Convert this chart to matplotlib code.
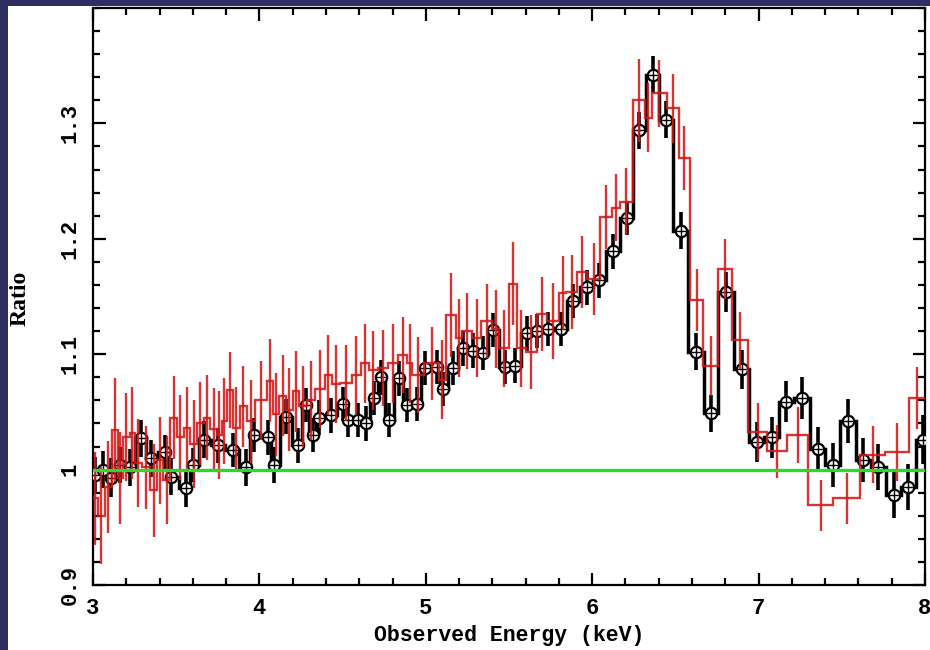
import numpy as np
import matplotlib
matplotlib.use("Agg")
import matplotlib.pyplot as plt
from matplotlib.patches import Rectangle
from matplotlib.ticker import MultipleLocator, FixedLocator

# ---------------- data ----------------
black_E = [3.01, 3.06, 3.11, 3.16, 3.22, 3.29, 3.35, 3.43, 3.47, 3.56,
           3.60, 3.67, 3.75, 3.84, 3.92, 3.97, 4.05, 4.09, 4.16, 4.23,
           4.28, 4.32, 4.36, 4.43, 4.50, 4.53, 4.59, 4.64, 4.69, 4.73,
           4.78, 4.84, 4.89, 4.945, 4.995, 5.065, 5.105, 5.165, 5.225, 5.285,
           5.345, 5.405, 5.476, 5.536, 5.606, 5.67, 5.736, 5.81, 5.886, 5.97,
           6.04, 6.123, 6.207, 6.283, 6.364, 6.443, 6.532, 6.624, 6.714, 6.804,
           6.898, 6.988, 7.078, 7.166, 7.263, 7.355, 7.445, 7.539, 7.629, 7.716,
           7.813, 7.90, 7.99]
black_R = [0.995, 1.000, 0.993, 1.004, 1.002, 1.027, 1.010, 1.015, 0.994, 0.984,
           1.004, 1.026, 1.021, 1.017, 1.002, 1.030, 1.028, 1.004, 1.046, 1.021,
           1.056, 1.030, 1.045, 1.047, 1.057, 1.043, 1.043, 1.040, 1.062, 1.080,
           1.043, 1.079, 1.056, 1.057, 1.088, 1.089, 1.070, 1.088, 1.105, 1.103,
           1.101, 1.121, 1.089, 1.090, 1.118, 1.120, 1.122, 1.122, 1.146, 1.158,
           1.164, 1.189, 1.218, 1.294, 1.342, 1.303, 1.207, 1.102, 1.049, 1.154,
           1.087, 1.024, 1.028, 1.059, 1.062, 1.018, 1.004, 1.042, 1.008, 1.002,
           0.978, 0.985, 1.026]
black_err = [0.016, 0.016, 0.017, 0.016, 0.016, 0.016, 0.016, 0.015, 0.016, 0.016,
             0.015, 0.016, 0.015, 0.015, 0.016, 0.015, 0.015, 0.016, 0.015, 0.015,
             0.015, 0.015, 0.015, 0.015, 0.015, 0.015, 0.015, 0.015, 0.015, 0.015,
             0.015, 0.015, 0.015, 0.015, 0.015, 0.015, 0.015, 0.015, 0.015, 0.015,
             0.015, 0.015, 0.015, 0.015, 0.015, 0.015, 0.015, 0.015, 0.015, 0.015,
             0.015, 0.015, 0.015, 0.016, 0.016, 0.016, 0.016, 0.016, 0.016, 0.017,
             0.017, 0.017, 0.018, 0.018, 0.018, 0.019, 0.019, 0.019, 0.019, 0.020,
             0.020, 0.020, 0.021]

red_edges = [3.000, 3.030, 3.072, 3.114, 3.150, 3.180, 3.222, 3.252, 3.294, 3.343,
             3.385, 3.421, 3.463, 3.505, 3.545, 3.585, 3.625, 3.665, 3.705, 3.745,
             3.775, 3.805, 3.841, 3.883, 3.925, 3.974, 4.046, 4.082, 4.120, 4.160,
             4.200, 4.240, 4.286, 4.334, 4.394, 4.436, 4.484, 4.556, 4.610, 4.660,
             4.710, 4.770, 4.830, 4.890, 4.920, 4.990, 5.080, 5.120, 5.180, 5.220,
             5.280, 5.330, 5.400, 5.440, 5.500, 5.550, 5.600, 5.670, 5.730, 5.800,
             5.845, 5.910, 5.970, 6.047, 6.119, 6.167, 6.245, 6.317, 6.357, 6.451,
             6.519, 6.590, 6.668, 6.758, 6.842, 6.938, 7.052, 7.172, 7.297, 7.448,
             7.611, 7.761, 7.905, 8.000]
red_R = [0.975, 0.960, 0.985, 1.034, 0.993, 1.028, 1.032, 1.006, 1.002, 0.982,
         1.008, 0.991, 1.045, 1.028, 1.036, 1.022, 1.040, 1.045, 1.035, 1.030,
         1.042, 1.069, 1.036, 1.055, 1.042, 1.060, 1.077, 1.048, 1.064, 1.052,
         1.068, 1.055, 1.060, 1.070, 1.082, 1.074, 1.075, 1.082, 1.092, 1.086,
         1.088, 1.092, 1.099, 1.092, 1.082, 1.092, 1.078, 1.134, 1.114, 1.120,
         1.114, 1.129, 1.122, 1.105, 1.161, 1.105, 1.102, 1.135, 1.129, 1.153,
         1.154, 1.171, 1.165, 1.219, 1.227, 1.232, 1.320, 1.305, 1.326, 1.313,
         1.270, 1.147, 1.090, 1.174, 1.112, 1.033, 1.016, 1.030, 0.969, 0.975,
         1.013, 1.015, 1.062]
red_err = [0.040, 0.042, 0.040, 0.045, 0.040, 0.038, 0.040, 0.038, 0.036, 0.040,
           0.038, 0.038, 0.036, 0.037, 0.036, 0.038, 0.036, 0.037, 0.036, 0.038,
           0.037, 0.033, 0.036, 0.035, 0.036, 0.034, 0.036, 0.036, 0.035, 0.036,
           0.035, 0.035, 0.034, 0.034, 0.035, 0.034, 0.033, 0.034, 0.034, 0.034,
           0.033, 0.034, 0.033, 0.034, 0.033, 0.032, 0.034, 0.036, 0.034, 0.033,
           0.034, 0.032, 0.034, 0.033, 0.036, 0.033, 0.032, 0.032, 0.033, 0.032,
           0.032, 0.031, 0.031, 0.028, 0.029, 0.029, 0.036, 0.030, 0.029, 0.030,
           0.028, 0.027, 0.026, 0.026, 0.025, 0.025, 0.023, 0.024, 0.022, 0.022,
           0.025, 0.025, 0.027]

model_level = [1.0, 1.0]
model_E = [3.0, 8.0]

xtick_vals = [3, 4, 5, 6, 7, 8]
xtick_labels = ["3", "4", "5", "6", "7", "8"]
ytick_vals = [0.9, 1.0, 1.1, 1.2, 1.3]
ytick_labels = ["0.9", "1", "1.1", "1.2", "1.3"]

# ---------------- figure ----------------
W, H = 930, 650
fig = plt.figure(figsize=(W / 100, H / 100), dpi=100)
fig.patch.set_facecolor("#2f2e63")
fig.add_artist(Rectangle((8 / W, 0), 1 - 8 / W, (H - 6) / H, transform=fig.transFigure,
                         facecolor="white", edgecolor="none", zorder=0))

ax = fig.add_axes([93 / W, 65 / H, 832 / W, 577 / H])
ax.set_xlim(3, 8)
ax.set_ylim(0.9, 1.4)

bE = np.array(black_E)
bR = np.array(black_R)
b_edges = np.concatenate([[3.0], (bE[:-1] + bE[1:]) / 2, [8.0]])
ax.stairs(bR, b_edges, baseline=None, color="black", lw=2.5, zorder=3)
ax.errorbar(bE, bR, yerr=black_err, fmt="none", ecolor="black", elinewidth=2.6, zorder=3)
ax.plot(bE, bR, "o", ms=8.2, mfc="white", mec="black", mew=1.6, zorder=4)
ax.plot(bE, bR, "+", ms=7, mec="black", mew=1.0, zorder=5)

rE = np.array(red_edges)
rR = np.array(red_R)
rC = (rE[:-1] + rE[1:]) / 2
red = "#d21818"
ax.stairs(rR, rE, baseline=None, color=red, lw=1.7, alpha=0.88, zorder=6)
ax.errorbar(rC, rR, yerr=red_err, fmt="none", ecolor=red, elinewidth=1.7, alpha=0.88, zorder=6)

ax.plot(model_E, model_level, color="#2fd62f", lw=2.4, zorder=7)

# ticks
ax.xaxis.set_major_locator(FixedLocator(xtick_vals))
ax.xaxis.set_minor_locator(MultipleLocator(0.2))
ax.yaxis.set_major_locator(FixedLocator(ytick_vals))
ax.yaxis.set_minor_locator(MultipleLocator(0.02))
ax.tick_params(which="both", direction="in", top=True, right=True, width=1.6, color="black")
ax.tick_params(which="major", length=9)
ax.tick_params(which="minor", length=4.8)
ax.tick_params(axis="x", which="major", pad=9)
ax.tick_params(axis="y", which="major", pad=9)
for s in ax.spines.values():
    s.set_linewidth(1.6)

tick_font = dict(family="Liberation Mono", weight="bold", size=16)
ax.set_xticklabels(xtick_labels, fontdict=tick_font)
ax.set_yticklabels(ytick_labels, fontdict=tick_font)
for lab in ax.get_yticklabels():
    lab.set_rotation(90)
    lab.set_va("center")
    lab.set_ha("right")

fig.text(509 / W, 1 - 636 / H, "Observed Energy (keV)", ha="center", va="center",
         family="Liberation Mono", weight="bold", size=15.5)
fig.text(20 / W, 1 - 298 / H, "Ratio", ha="center", va="center", rotation=90,
         family="Liberation Serif", weight="bold", size=17)

fig.savefig("out.png", dpi=100, facecolor=fig.get_facecolor())
